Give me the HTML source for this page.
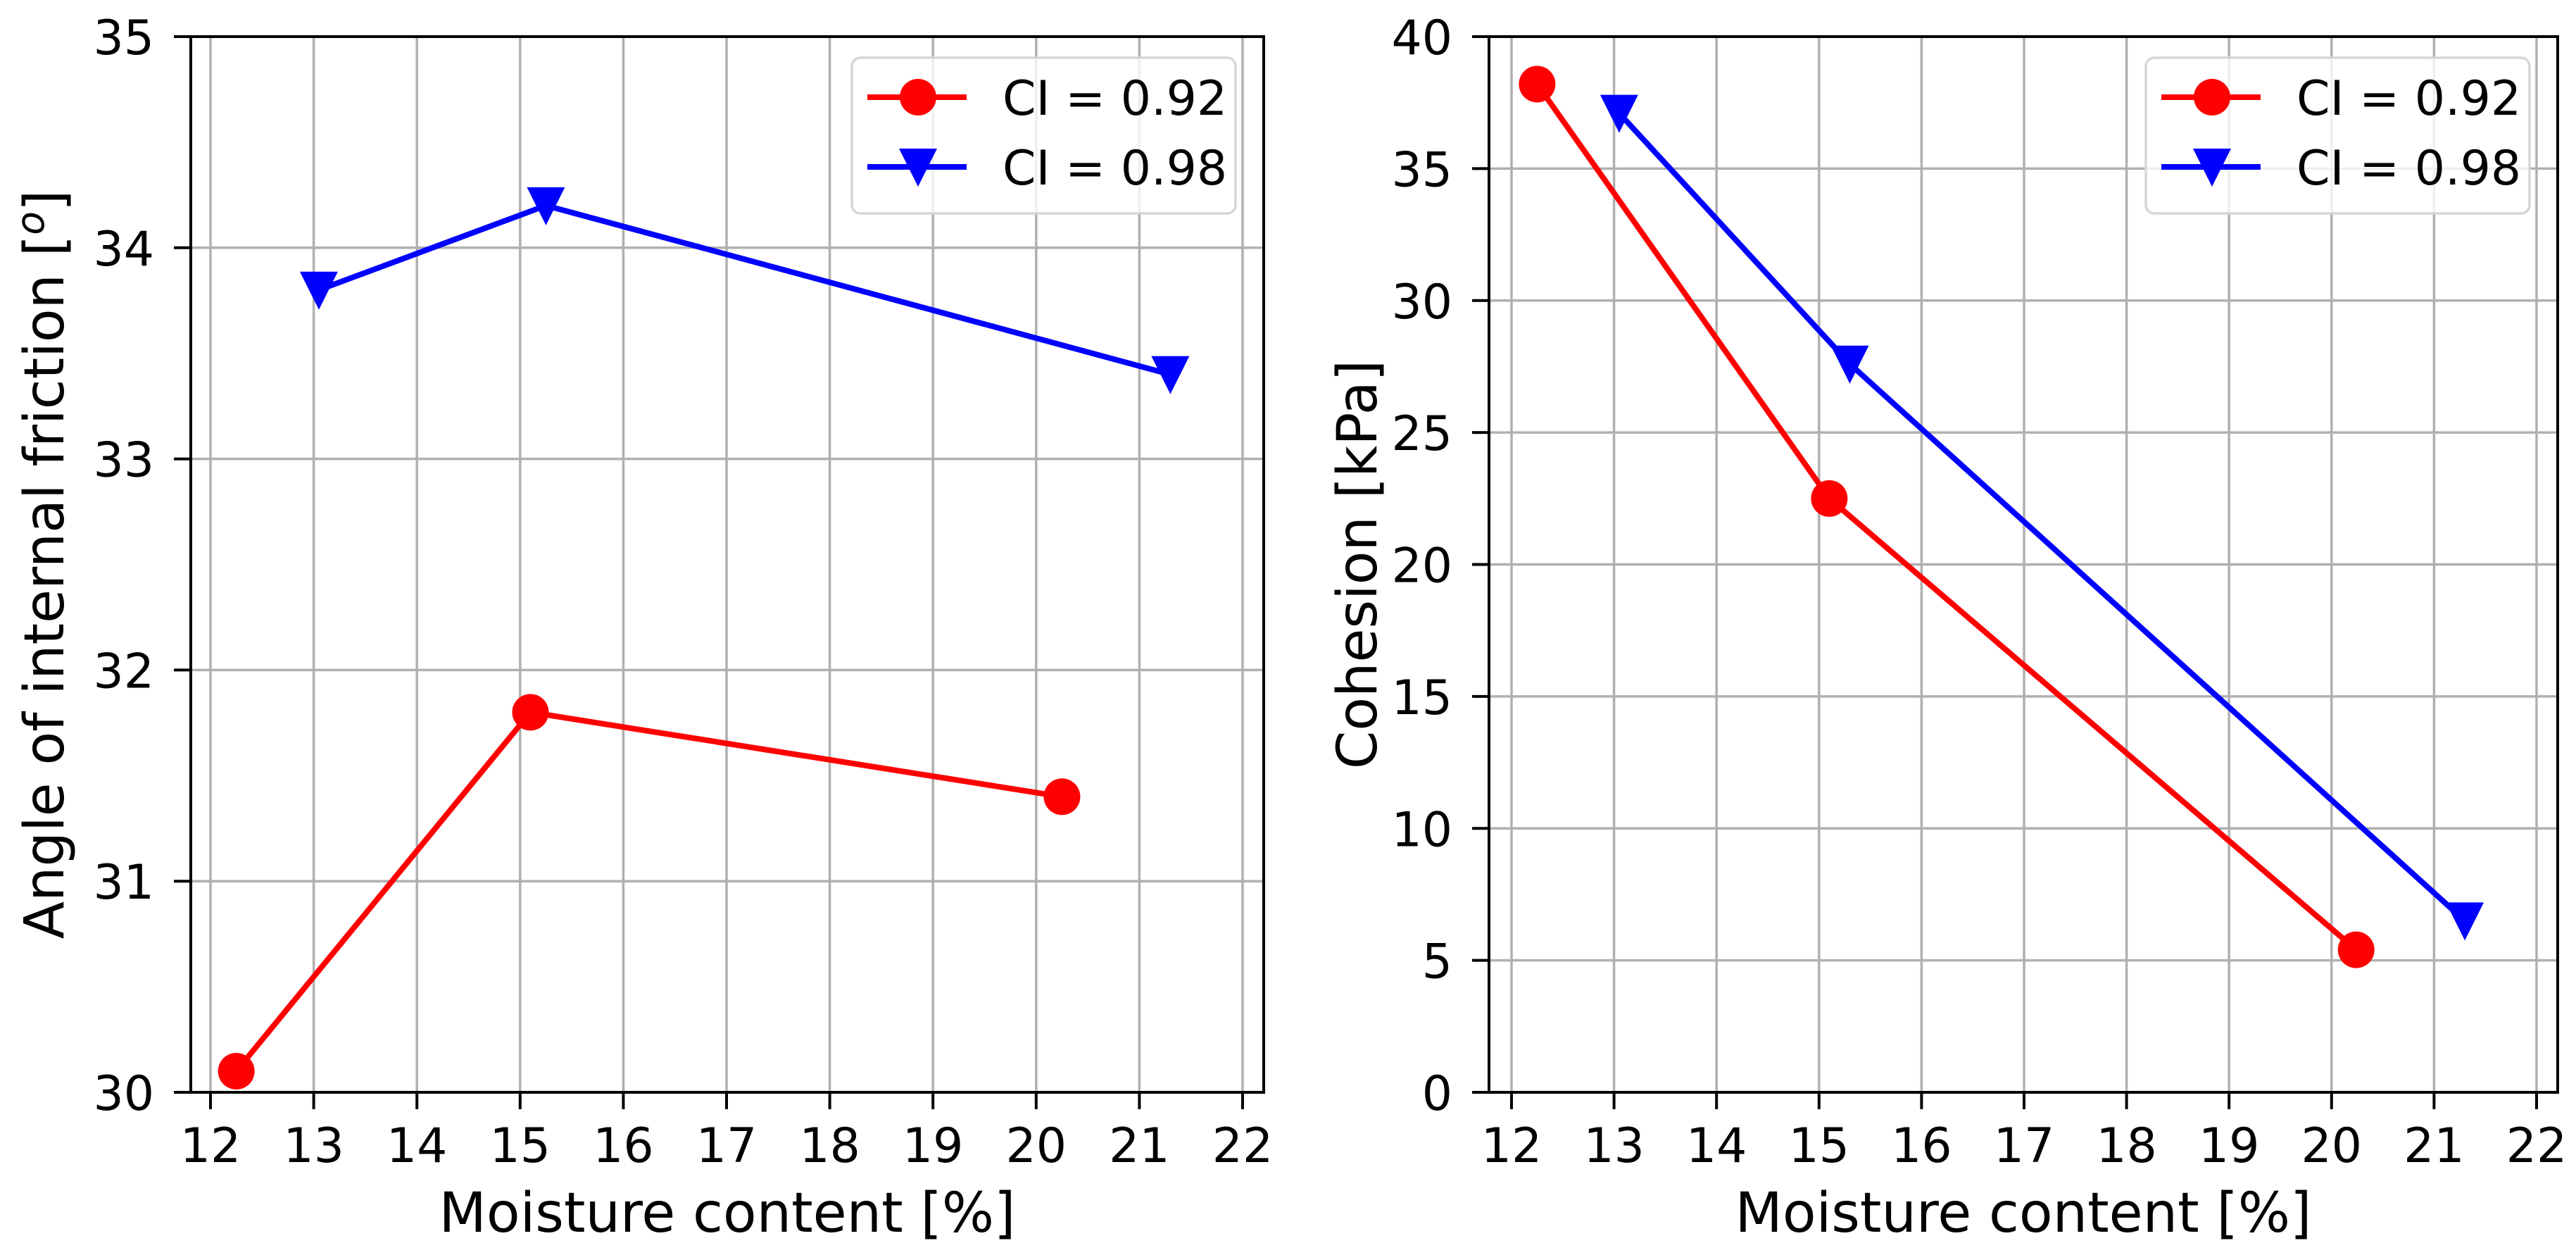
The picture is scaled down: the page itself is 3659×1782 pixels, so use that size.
<!DOCTYPE html>
<html><head><meta charset="utf-8"><style>
html,body{margin:0;padding:0;background:#fff}
svg{display:block}
text{font-family:"DejaVu Sans","Liberation Sans",sans-serif;fill:#000}
</style></head><body>
<svg id="fig" width="3659" height="1782" viewBox="0 0 3659 1782" xmlns="http://www.w3.org/2000/svg"></svg>
<script>
const xTicks=[12,13,14,15,16,17,18,19,20,21,22];
const leftYTicks=[30,31,32,33,34,35];
const rightYTicks=[0,5,10,15,20,25,30,35,40];
const leftRedX=[12.25,15.1,20.25];
const leftRedY=[30.1,31.8,31.4];
const leftBlueX=[13.05,15.25,21.3];
const leftBlueY=[33.8,34.2,33.4];
const rightRedX=[12.25,15.1,20.24];
const rightRedY=[38.2,22.5,5.4];
const rightBlueX=[13.05,15.3,21.3];
const rightBlueY=[37.1,27.6,6.5];
const legendLabels=["CI = 0.92","CI = 0.98"];

const NS="http://www.w3.org/2000/svg";
const svg=document.getElementById('fig');
function mk(tag,attrs,parent){const e=document.createElementNS(NS,tag);for(const k in attrs)e.setAttribute(k,attrs[k]);(parent||svg).appendChild(e);return e;}

function panel(cfg){
  const g=mk('g',{});
  
  
  const sx=v=>cfg.x0+(v-12)*(cfg.x1-cfg.x0)/10;
  const sy=v=>cfg.bottom-(v-cfg.ymin)*(cfg.bottom-cfg.top)/(cfg.ymax-cfg.ymin);
  // grid
  xTicks.forEach(t=>{const l=mk('line',{x1:sx(t),x2:sx(t),y1:cfg.top,y2:cfg.bottom,stroke:'#b0b0b0','stroke-width':3.5},g);
    });
  cfg.yt.forEach(t=>{const l=mk('line',{x1:cfg.left,x2:cfg.right,y1:sy(t),y2:sy(t),stroke:'#b0b0b0','stroke-width':3.5},g);
    });
  // series
  function series(xs,ys,color,marker,nm){
    const pts=xs.map((x,i)=>sx(x)+','+sy(ys[i])).join(' ');
    const pl=mk('polyline',{points:pts,fill:'none',stroke:color,'stroke-width':8,'stroke-linejoin':'round'},g);
    
    xs.forEach((x,i)=>{drawMarker(g,sx(x),sy(ys[i]),color,marker,nm+'-point');});
  }
  series(cfg.rx,cfg.ry,'#ff0000','o','ci-092');
  series(cfg.bx,cfg.by,'#0000ff','v','ci-098');
  // spines
  const fr=mk('rect',{x:cfg.left,y:cfg.top,width:cfg.right-cfg.left,height:cfg.bottom-cfg.top,fill:'none',stroke:'#000','stroke-width':4},g);
  
  // ticks
  xTicks.forEach(t=>{
    mk('line',{x1:sx(t),x2:sx(t),y1:cfg.bottom,y2:cfg.bottom+24,stroke:'#000','stroke-width':4},g);
    const tx=mk('text',{x:sx(t),y:1650,'font-size':68,'text-anchor':'middle'},g);tx.textContent=t;
    
  });
  cfg.yt.forEach(t=>{
    mk('line',{x1:cfg.left-24,x2:cfg.left,y1:sy(t),y2:sy(t),stroke:'#000','stroke-width':4},g);
    const tx=mk('text',{x:cfg.left-52,y:sy(t)+25,'font-size':68,'text-anchor':'end'},g);tx.textContent=t;
    
  });
  // axis labels
  const xl=mk('text',{x:(cfg.left+cfg.right)/2,y:1749,'font-size':78,'text-anchor':'middle'},g);
  xl.textContent='Moisture content [%]';
  
  const cy=(cfg.top+cfg.bottom)/2;
  const yl=mk('text',{x:cfg.ylx,y:cy,'font-size':78,'text-anchor':'middle',transform:`rotate(-90 ${cfg.ylx} ${cy})`},g);
  
  if(cfg.ylabelSup){yl.appendChild(document.createTextNode('Angle of internal friction ['));
    const ts=mk('tspan',{'font-style':'italic','font-size':55,dy:-28},yl);ts.textContent='o';
    const ts2=mk('tspan',{dy:28},yl);ts2.textContent=']';}
  else yl.textContent=cfg.ylabel;
  // legend
  const L=cfg.right-40-545, T=82;
  const lg=mk('g',{},g);
  mk('rect',{x:L,y:T,width:545,height:221,rx:12,fill:'#fff','fill-opacity':0.8,stroke:'#d6d6d6','stroke-width':3.5},lg);
  [['#ff0000','o'],['#0000ff','v']].forEach((c,i)=>{
    const yy=138+i*99;
    const en=mk('g',{},lg);
    mk('line',{x1:L+22,x2:L+163,y1:yy,y2:yy,stroke:c[0],'stroke-width':8},en);
    drawMarker(en,L+94,yy,c[0],c[1],'legend-marker');
    const t=mk('text',{x:L+214,y:yy+25,'font-size':68},en);t.textContent=legendLabels[i];
  });
}
function drawMarker(parent,x,y,color,m,nm){
  let e;
  if(m==='o') e=mk('circle',{cx:x,cy:y,r:26,fill:color},parent);
  else e=mk('polygon',{points:`${x-27},${y-26} ${x+27},${y-26} ${x},${y+28}`,fill:color},parent);
  
  
}
panel({name:'friction-panel',left:271,right:1795,top:52,bottom:1551,x0:299,x1:1765,ymin:30,ymax:35,yt:leftYTicks,
  rx:leftRedX,ry:leftRedY,bx:leftBlueX,by:leftBlueY,ylx:90,ylabelSup:true});
panel({name:'cohesion-panel',left:2115,right:3633,top:52,bottom:1551,x0:2147,x1:3603,ymin:0,ymax:40,yt:rightYTicks,
  rx:rightRedX,ry:rightRedY,bx:rightBlueX,by:rightBlueY,ylx:1955,ylabel:'Cohesion [kPa]'});
</script>
</body></html>
